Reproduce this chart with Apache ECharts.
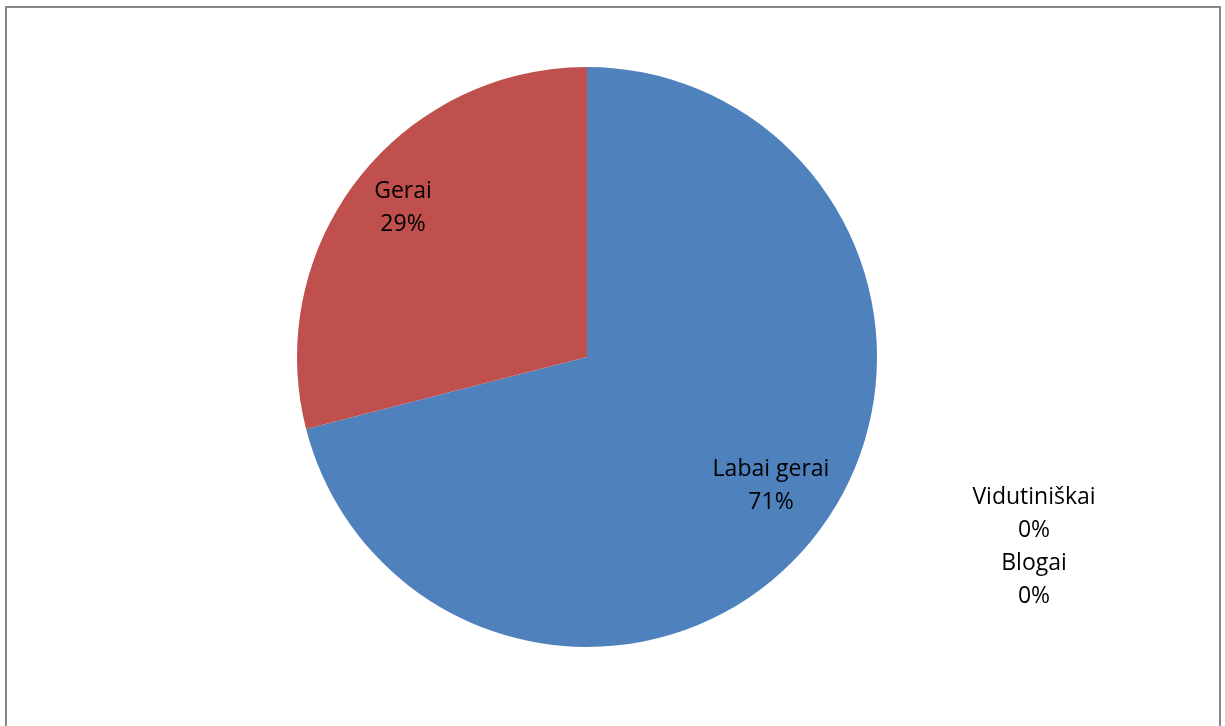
<!DOCTYPE html>
<html>
<head>
<meta charset="utf-8">
<script src="https://cdn.jsdelivr.net/npm/echarts@6/dist/echarts.min.js"></script>
<style>
html,body{margin:0;padding:0;background:#fff;overflow:hidden;}
#frame{position:absolute;left:5px;top:6px;width:1216px;height:760px;border:2px solid #878787;box-sizing:border-box;}
#chart{position:absolute;left:0;top:0;width:1225px;height:726px;}
</style>
</head>
<body>
<div id="frame"></div>
<div id="chart"></div>
<script>
const categories = ['Labai gerai', 'Gerai', 'Vidutiniškai', 'Blogai'];
const values = [71, 29, 0, 0];
const colors = ['#4F81BD', '#C0504D', '#9BBB59', '#8064A2'];

// label anchor positions (layout only)
const labelPos = [[771, 486], [403, 208], [1034, 514], [1034, 580]];

const chart = echarts.init(document.getElementById('chart'), null, {renderer: 'canvas'});
chart.setOption({
  animation: false,
  backgroundColor: 'transparent',
  series: [{
    type: 'pie',
    center: [587, 357],
    radius: 290,
    startAngle: 90,
    clockwise: true,
    minShowLabelAngle: 0,
    avoidLabelOverlap: false,
    data: categories.map((c, i) => ({name: c, value: values[i], itemStyle: {color: colors[i]}})),
    itemStyle: {borderWidth: 0},
    label: {
      show: true,
      position: 'inside',
      formatter: p => p.name + '\n' + Math.round(p.percent) + '%',
      fontFamily: '"Open Sans", Lato, sans-serif',
      fontSize: 23,
      lineHeight: 33,
      color: '#000',
      align: 'center'
    },
    labelLine: {show: false},
    labelLayout: function (params) {
      const p = labelPos[params.dataIndex];
      return {x: p[0], y: p[1], align: 'center', verticalAlign: 'middle'};
    }
  }]
});
</script>
</body>
</html>
